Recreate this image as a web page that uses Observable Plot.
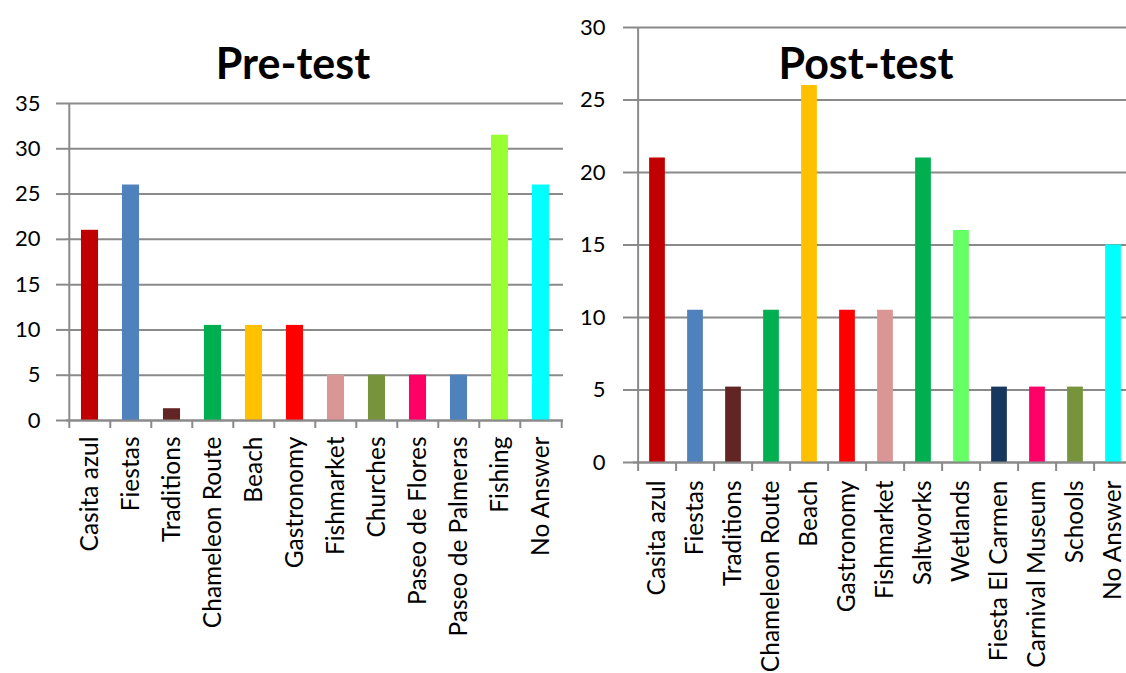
<!DOCTYPE html>
<html>
<head>
<meta charset="utf-8">
<script src="https://cdn.jsdelivr.net/npm/d3@7"></script>
<script src="https://cdn.jsdelivr.net/npm/@observablehq/plot@0.6"></script>
<style>
  html, body { margin: 0; padding: 0; background: #fff; }
  body { width: 1126px; height: 673px; overflow: hidden; position: relative; font-family: Lato, sans-serif; }
  .chart { position: absolute; top: 0; }
  .chart svg { max-width: none !important; }
  .title { position: absolute; font-family: Lato, sans-serif; font-weight: bold; font-size: 43px; line-height: 1; color: #000; white-space: nowrap; transform: translateX(-50%); }
</style>
</head>
<body>
<div id="pre" class="chart" style="left:0px; width:570px"></div>
<div id="post" class="chart" style="left:570px; width:567px"></div>
<div class="title" style="left:293px; top:41px">Pre-test</div>
<div class="title" style="left:866px; top:41px">Post-test</div>
<script>
// ---- Data ----
const preCategories = ["Casita azul", "Fiestas", "Traditions", "Chameleon Route", "Beach", "Gastronomy", "Fishmarket", "Churches", "Paseo de Flores", "Paseo de Palmeras", "Fishing", "No Answer"];
const preValues = [21, 26, 1.3, 10.5, 10.5, 10.5, 5, 5, 5, 5, 31.5, 26];
const preColors = ["#C00000", "#4F81BD", "#632523", "#00B050", "#FFC000", "#FF0000", "#D99694", "#77933C", "#FF0066", "#4F81BD", "#99FF33", "#00FFFF"];
const preYTicks = [0, 5, 10, 15, 20, 25, 30, 35];

const postCategories = ["Casita azul", "Fiestas", "Traditions", "Chameleon Route", "Beach", "Gastronomy", "Fishmarket", "Saltworks", "Wetlands", "Fiesta El Carmen", "Carnival Museum", "Schools", "No Answer"];
const postValues = [21, 10.5, 5.2, 10.5, 26, 10.5, 10.5, 21, 16, 5.2, 5.2, 5.2, 15];
const postColors = ["#C00000", "#4F81BD", "#632523", "#00B050", "#FFC000", "#FF0000", "#D99694", "#00B050", "#66FF66", "#17375E", "#FF0066", "#77933C", "#00FFFF"];
const postYTicks = [0, 5, 10, 15, 20, 25, 30];

const GRAY = "#8a8a8a";

function makeChart({cats, values, colors, yTicks, width, height, marginLeft, marginRight, marginTop, marginBottom, barWidth, yPad, labelPad, tickLen}) {
  const data = cats.map((c, i) => ({cat: c, value: values[i], color: colors[i]}));
  const bw = (width - marginLeft - marginRight) / cats.length;
  const inset = (bw - barWidth) / 2;
  return Plot.plot({
    width, height, marginLeft, marginRight, marginTop, marginBottom,
    style: {fontFamily: "Lato, sans-serif", fontSize: "22px", color: "#000", background: "transparent", overflow: "visible", maxWidth: "none"},
    x: {domain: cats, padding: 0, axis: null},
    y: {domain: [yTicks[0], yTicks[yTicks.length - 1]], axis: null},
    color: {type: "identity"},
    marks: [
      Plot.gridY({ticks: yTicks, stroke: GRAY, strokeOpacity: 1, strokeWidth: 2}),
      Plot.axisY({ticks: yTicks, tickSize: 10, tickPadding: yPad, stroke: GRAY, strokeWidth: 2, fontSize: 22, label: null, tickFormat: d => String(d)}),
      Plot.barY(data, {x: "cat", y: "value", fill: "color", insetLeft: inset, insetRight: inset}),
      Plot.ruleY([0], {stroke: GRAY, strokeWidth: 2}),
      Plot.ruleX([cats[0]], {dx: -bw / 2, stroke: GRAY, strokeWidth: 2}),
      Plot.axisX({ticks: cats, tickSize: tickLen, tickFormat: () => "", dx: -bw / 2, stroke: GRAY, strokeWidth: 2, label: null}),
      Plot.axisX({ticks: [cats[cats.length - 1]], tickSize: tickLen, tickFormat: () => "", dx: bw / 2, stroke: GRAY, strokeWidth: 2, label: null}),
      Plot.axisX({ticks: cats, tickSize: 0, tickPadding: labelPad, tickRotate: -90, fontSize: 24.5, label: null})
    ]
  });
}

document.getElementById("pre").appendChild(makeChart({
  cats: preCategories, values: preValues, colors: preColors, yTicks: preYTicks,
  width: 570, height: 673, marginLeft: 66, marginRight: 7, marginTop: 103, marginBottom: 253,
  barWidth: 17.5, yPad: 16, labelPad: 16, tickLen: 8
}));

document.getElementById("post").appendChild(makeChart({
  cats: postCategories, values: postValues, colors: postColors, yTicks: postYTicks,
  width: 567, height: 673, marginLeft: 63, marginRight: 0, marginTop: 27, marginBottom: 211,
  barWidth: 16.5, yPad: 18, labelPad: 18, tickLen: 9
}));
</script>
</body>
</html>
